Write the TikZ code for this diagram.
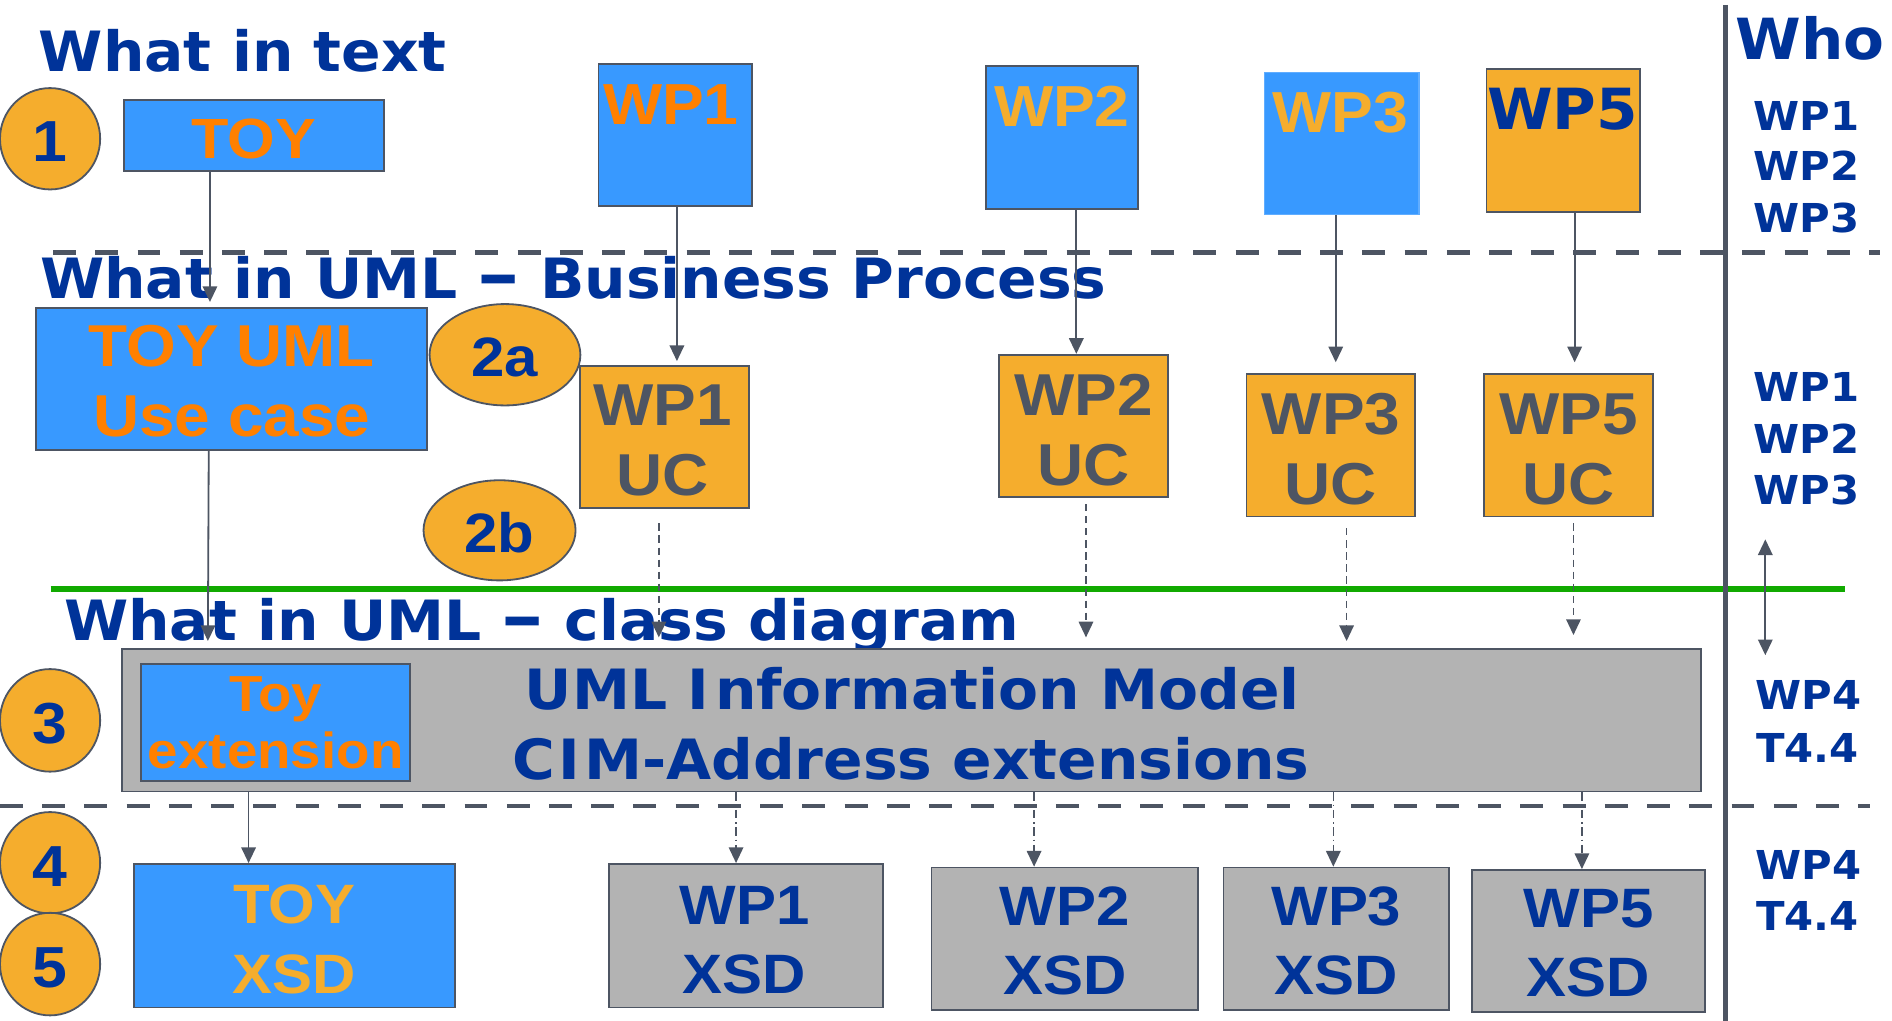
\documentclass[tikz,border=0pt]{standalone}
\usepackage{fontspec}
\setmainfont{Liberation Sans}
\newfontfamily\vf{DejaVu Sans}[FakeStretch=1.05]
\newfontfamily\af{Liberation Sans}[FakeStretch=1.08]
\usetikzlibrary{arrows.meta,shapes.geometric,calc}
\definecolor{blueF}{RGB}{56,153,255}
\definecolor{orangeT}{RGB}{255,128,0}
\definecolor{yellowF}{RGB}{245,173,45}
\definecolor{navy}{RGB}{0,51,153}
\definecolor{slate}{RGB}{77,85,99}
\definecolor{grayF}{RGB}{179,179,179}
\definecolor{greenL}{RGB}{17,170,0}
\newcommand\myfs[1]{\fontsize{#1}{#1}\selectfont}
\newcommand\wdash{\scalebox{1.45}[1.25]{–}}
\begin{document}
\begin{tikzpicture}[x=1pt,y=-1pt,
  bbox/.style={draw=slate, line width=1.5pt, inner sep=0pt},
  circ/.style={ellipse, draw=slate, line width=1.5pt, fill=yellowF, inner sep=0pt},
  lbl/.style={anchor=base, inner sep=0pt},
  ttl/.style={anchor=base west, inner sep=0pt, text=navy, font=\vf\bfseries\myfs{46}},
  rcol/.style={lbl, text=navy, font=\vf\bfseries\myfs{33}},
  sarr/.style={draw=slate, line width=1.5pt, -{Triangle[length=13pt,width=12pt]}},
  darr/.style={draw=slate, line width=1.3pt, dash pattern=on 6pt off 4pt, -{Triangle[length=13pt,width=12pt]}},
  ddarr/.style={draw=slate, line width=1.3pt, dash pattern=on 7pt off 3pt on 1.5pt off 3pt, -{Triangle[length=13pt,width=12pt]}},
  sep/.style={draw=slate, line width=4pt, dash pattern=on 19pt off 16pt}
]
\useasboundingbox (0,0) rectangle (1568,846);
\fill[white] (0,0) rectangle (1568,846);

% separators
\coordinate (s1a) at (44,209); \coordinate (s1b) at (1558,209);
\coordinate (s2a) at (0,668); \coordinate (s2b) at (1550,668);
\coordinate (g1) at (42,488); \coordinate (g2) at (1529,488);
\coordinate (v1) at (1430,4); \coordinate (v2) at (1430,846);
\draw[sep] (s1a) -- (s1b);
\draw[sep] (s2a) -- (s2b);
\draw[greenL, line width=5pt] (g1) -- (g2);
\draw[slate, line width=4pt] (v1) -- (v2);

% titles
\node[ttl] (t1) at (32,59) {What in text};
\node[ttl, font=\vf\bfseries\myfs{47}] (who) at (1438,49) {Who};
\node[ttl] (t2) at (33,247) {What in UML \wdash{} Business Process};
\node[ttl] (t3) at (53,531) {What in UML \wdash{} class diagram};

% row 1
\node[bbox, fill=blueF, minimum width=215pt, minimum height=59pt] (toy) at (210.5,112.5) {};
\node[lbl, text=orangeT, font=\af\bfseries\myfs{47}] (toyL) at (210.5,131) {TOY};
\node[bbox, fill=blueF, minimum width=127pt, minimum height=118pt] (wp1t) at (559.5,112) {};
\node[bbox, fill=blueF, minimum width=126pt, minimum height=118pt] (wp2t) at (880,114) {};
\node[draw=blueF!80!white, line width=1pt, inner sep=0pt, fill=blueF, minimum width=128pt, minimum height=118pt] (wp3t) at (1112,119) {};
\node[bbox, fill=yellowF, minimum width=127pt, minimum height=119pt] (wp5t) at (1295.5,116.5) {};
\node[lbl, text=orangeT, font=\af\bfseries\myfs{48}] (wp1tL) at (556,103) {WP1};
\node[lbl, text=yellowF, font=\af\bfseries\myfs{48}] (wp2tL) at (880,105) {WP2};
\node[lbl, text=yellowF, font=\af\bfseries\myfs{48}] (wp3tL) at (1111,110) {WP3};
\node[lbl, text=navy, font=\vf\bfseries\myfs{47}] (wp5tL) at (1295,107) {WP5};

% circles
\node[circ, minimum width=83pt, minimum height=84pt] (c1) at (41.5,115) {};
\node[lbl, text=navy, font=\af\bfseries\myfs{48}] (c1L) at (41.5,134) {1};

% row 2
\node[bbox, fill=blueF, minimum width=324pt, minimum height=118pt] (toyuml) at (192,314) {};
\node[lbl, text=orangeT, font=\af\bfseries\myfs{49}] (toyumlL1) at (192,304) {TOY UML};
\node[lbl, text=orangeT, font=\af\bfseries\myfs{49}] (toyumlL2) at (192,362) {Use case};
\node[circ, minimum width=125pt, minimum height=84pt] (c2a) at (418.5,294) {};
\node[lbl, text=navy, font=\af\bfseries\myfs{46}] (c2aL) at (418,312) {2a};
\node[circ, minimum width=126pt, minimum height=83pt] (c2b) at (414,439.5) {};
\node[lbl, text=navy, font=\af\bfseries\myfs{46}] (c2bL) at (414,458) {2b};

\node[bbox, fill=yellowF, minimum width=140pt, minimum height=118pt] (wp1uc) at (551,362) {};
\node[bbox, fill=yellowF, minimum width=140pt, minimum height=118pt] (wp2uc) at (898,353) {};
\node[bbox, fill=yellowF, minimum width=140pt, minimum height=118pt] (wp3uc) at (1103,369) {};
\node[bbox, fill=yellowF, minimum width=140pt, minimum height=118pt] (wp5uc) at (1300,369) {};
\foreach \n/\x/\y/\t in {wp1/549/353/WP1, wp2/898/344/WP2, wp3/1103/360/WP3, wp5/1300/360/WP5}{
  \node[lbl, text=slate, font=\af\bfseries\myfs{49}] (\n ucA) at (\x,\y) {\t};
  \node[lbl, text=slate, font=\af\bfseries\myfs{49}] (\n ucB) at (\x,\y+58) {UC};
}

% row 3
\node[bbox, fill=grayF, minimum width=1309pt, minimum height=118pt] (im) at (755.5,597) {};
\node[bbox, fill=blueF, minimum width=223pt, minimum height=97pt] (toyext) at (228.5,598.5) {};
\node[lbl, text=orangeT, font=\af\bfseries\myfs{42}] (toyextA) at (228.5,590) {Toy};
\node[lbl, text=orangeT, font=\af\bfseries\myfs{42}] (toyextB) at (228.5,637) {extension};
\node[lbl, text=navy, font=\vf\bfseries\myfs{46}] (imA) at (756,588) {UML I\kern5ptnformation Model};
\node[lbl, text=navy, font=\vf\bfseries\myfs{46}] (imB) at (755,646) {C\kern3ptI\kern3ptM-Address extensions};
\node[circ, minimum width=83pt, minimum height=85pt] (c3) at (41.5,597) {};
\node[lbl, text=navy, font=\af\bfseries\myfs{48}] (c3L) at (41.5,616) {3};

% row 4
\node[circ, minimum width=83pt, minimum height=84pt] (c4) at (41.5,715) {};
\node[lbl, text=navy, font=\af\bfseries\myfs{48}] (c4L) at (41.5,735) {4};
\node[circ, minimum width=83pt, minimum height=85pt] (c5) at (41.5,799) {};
\node[lbl, text=navy, font=\af\bfseries\myfs{48}] (c5L) at (41.5,818) {5};

\node[bbox, fill=blueF, minimum width=266pt, minimum height=119pt] (toyxsd) at (244,775.5) {};
\node[lbl, text=yellowF, font=\af\bfseries\myfs{46}] (toyxsdA) at (244,765) {TOY};
\node[lbl, text=yellowF, font=\af\bfseries\myfs{46}] (toyxsdB) at (244,823) {XSD};
\node[bbox, fill=grayF, minimum width=227pt, minimum height=119pt] (wp1xsd) at (618.5,775.5) {};
\node[bbox, fill=grayF, minimum width=221pt, minimum height=118pt] (wp2xsd) at (882.5,778) {};
\node[bbox, fill=grayF, minimum width=187pt, minimum height=118pt] (wp3xsd) at (1107.5,778) {};
\node[bbox, fill=grayF, minimum width=193pt, minimum height=118pt] (wp5xsd) at (1316.5,780) {};
\foreach \n/\x/\y/\t in {wp1/617/766/WP1, wp2/882.5/767/WP2, wp3/1107.5/767/WP3, wp5/1316.5/769/WP5}{
  \node[lbl, text=navy, font=\af\bfseries\myfs{46}] (\n xA) at (\x,\y) {\t};
  \node[lbl, text=navy, font=\af\bfseries\myfs{46}] (\n xB) at (\x,\y+57) {XSD};
}

% right column
\node[rcol] (r1) at (1497,108) {WP1};
\node[rcol] (r2) at (1497,150) {WP2};
\node[rcol] (r3) at (1497,193) {WP3};
\node[rcol] (r4) at (1497,333) {WP1};
\node[rcol] (r5) at (1497,376) {WP2};
\node[rcol] (r6) at (1497,418) {WP3};
\node[rcol] (r7) at (1499,588) {WP4};
\node[rcol] (r8) at (1498,632) {T4.4};
\node[rcol] (r9) at (1499,729) {WP4};
\node[rcol] (r10) at (1498,771) {T4.4};
\coordinate (da1) at (1463,447);
\coordinate (da2) at (1463,543);
\draw[draw=slate, line width=1.5pt, {Triangle[length=13pt,width=12pt]}-{Triangle[length=13pt,width=12pt]}] (da1) -- (da2);

% connectors
\draw[sarr, shorten >=4pt] ($(toy.south)+(-36.5,0)$) -- ($(toyuml.north)+(-18,0)$);
\draw[sarr, shorten >=6pt] ($(toyuml.south)+(-19,0)$) -- ($(im.north west)+(72,0)$);
\draw[sarr, shorten >=3pt] ($(wp1t.south)+(1.5,0)$) -- ($(wp1uc.north)+(10,0)$);
\draw[sarr] ($(wp2t.south)+(12,0)$) -- ($(wp2uc.north)+(-6,0)$);
\draw[sarr, shorten >=9pt] ($(wp3t.south)+(-5,0)$) -- ($(wp3uc.north)+(4,0)$);
\draw[sarr, shorten >=9pt] ($(wp5t.south)+(9.5,0)$) -- ($(wp5uc.north)+(5,0)$);

\draw[darr, shorten <=12pt, shorten >=9pt] ($(wp1uc.south)+(-5,0)$) -- ($(im.north)+(-209.5,0)$);
\draw[darr, shorten <=5pt, shorten >=9pt] ($(wp2uc.south)+(2,0)$) -- ($(im.north)+(144.5,0)$);
\draw[darr, shorten <=9pt, shorten >=6pt] ($(wp3uc.south)+(13,0)$) -- ($(im.north)+(360.5,0)$);
\draw[darr, shorten <=5pt, shorten >=11pt] ($(wp5uc.south)+(4,0)$) -- ($(im.north)+(548.5,0)$);

\draw[sarr] ($(im.south)+(-549.5,0)$) -- ($(toyxsd.north)+(-38,0)$);
\draw[ddarr] ($(im.south)+(-145.5,0)$) -- ($(wp1xsd.north)+(-8.5,0)$);
\draw[ddarr] ($(im.south)+(101.5,0)$) -- ($(wp2xsd.north)+(-25.5,0)$);
\draw[ddarr] ($(im.south)+(349.5,0)$) -- ($(wp3xsd.north)+(-2.5,0)$);
\draw[ddarr] ($(im.south)+(555.5,0)$) -- ($(wp5xsd.north)+(-5.5,0)$);
\end{tikzpicture}
\end{document}
